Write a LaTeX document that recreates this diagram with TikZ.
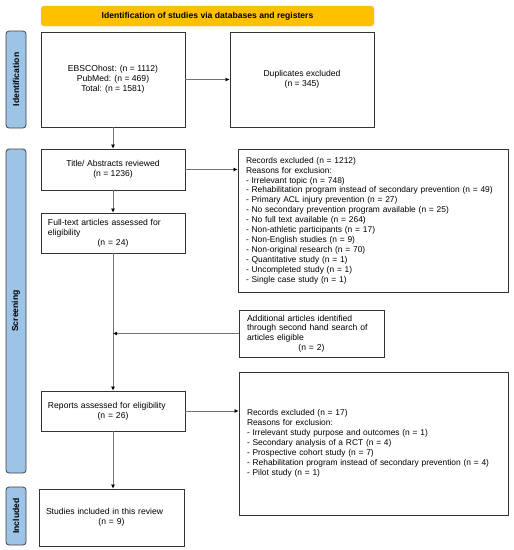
\documentclass[tikz,border=0pt]{standalone}
\usepackage{fontspec}
\setmainfont{Liberation Sans}
\usetikzlibrary{arrows.meta}
\definecolor{bannerorange}{RGB}{255,192,0}
\definecolor{phaseblue}{RGB}{157,195,230}
\tikzset{
  stagebox/.style={draw=black!80, line width=0.8pt, minimum width=144pt, align=center,
    font=\fontsize{8.6}{9.8}\selectfont},
  leftbox/.style={stagebox, align=left, inner xsep=7pt, text width=130pt},
  reasonbox/.style={stagebox, align=left, inner xsep=8pt, font=\fontsize{8.4}{9.9}\selectfont},
  phaselabel/.style={draw=black!75, line width=0.8pt, fill=phaseblue, rounded corners=3pt,
    rotate=90, minimum height=20pt, inner sep=0pt, font=\fontsize{8.6}{9.8}\selectfont\bfseries},
  conn/.style={draw=black!55, line width=0.7pt, -{Latex[length=4pt,width=4pt,color=black]}}
}
\begin{document}
\begin{tikzpicture}[x=1pt,y=-1pt]
  \useasboundingbox (0,0) rectangle (514,550);
  % banner and phases
  \node[draw=bannerorange!80!black!60, fill=bannerorange, rounded corners=3pt, minimum width=333pt,
    minimum height=20pt, inner sep=0pt, font=\fontsize{8.6}{9.8}\selectfont\bfseries] (banner) at (207.5,16)
    {Identification of studies via databases and registers};
  \node[phaselabel, minimum width=97pt] (phaseid) at (16,79.5) {Identification};
  \node[phaselabel, minimum width=324pt] (phasescr) at (16,311) {Screening};
  \node[phaselabel, minimum width=58pt] (phaseinc) at (16,516) {Included};

  % left column
  \node[stagebox, minimum height=95pt] (search) at (113,79.5)
    {EBSCOhost: (n = 1112)\\PubMed: (n = 469)\\Total: (n = 1581)};
  \node[stagebox, minimum height=41pt] (title) at (113,169.5)
    {Title/ Abstracts reviewed\\(n = 1236)};
  \node[leftbox, minimum height=40pt] (fulltext) at (113,233)
    {Full-text articles assessed for\\eligibility\par{\centering (n = 24)\par}};
  \node[leftbox, minimum height=40pt] (reports) at (113,411)
    {Reports assessed for eligibility\par{\centering (n = 26)\par}};
  \node[leftbox, minimum height=57pt, text width=131pt] (studies) at (111.5,517.5)
    {Studies included in this review\par{\centering (n = 9)\par}};

  % right column
  \node[stagebox, minimum height=95pt] (dupl) at (302,79.5)
    {Duplicates excluded\\(n = 345)};
  \node[reasonbox, minimum height=143pt, text width=254pt] (excl) at (373,220.5)
    {Records excluded (n = 1212)\\Reasons for exclusion:\\
     - Irrelevant topic (n = 748)\\
     - Rehabilitation program instead of secondary prevention (n = 49)\\
     - Primary ACL injury prevention (n = 27)\\
     - No secondary prevention program available (n = 25)\\
     - No full text available (n = 264)\\
     - Non-athletic participants (n = 17)\\
     - Non-English studies (n = 9)\\
     - Non-original research (n = 70)\\
     - Quantitative study (n = 1)\\
     - Uncompleted study (n = 1)\\
     - Single case study (n = 1)};
  \node[leftbox, minimum height=47pt, inner xsep=8pt, text width=129pt] (extra) at (311.5,333.5)
    {Additional articles identified\\through second hand search of\\articles eligible\par{\centering (n = 2)\par}};
  \node[reasonbox, minimum height=143pt, text width=253pt] (exclrep) at (373.5,443.5)
    {Records excluded (n = 17)\\Reasons for exclusion:\\
     - Irrelevant study purpose and outcomes (n = 1)\\
     - Secondary analysis of a RCT (n = 4)\\
     - Prospective cohort study (n = 7)\\
     - Rehabilitation program instead of secondary prevention (n = 4)\\
     - Pilot study (n = 1)};

  % connectors
  \draw[conn] (search.east) -- (dupl.west);
  \draw[conn] (search.south) -- (title.north);
  \draw[conn] (title.east) -- (title.east -| excl.west);
  \draw[conn] (title.south) -- (fulltext.north);
  \draw[conn] (fulltext.south) -- (reports.north);
  \draw[conn] (extra.west) -- (extra.west -| fulltext.south);
  \draw[conn] (reports.east) -- (reports.east -| exclrep.west);
  \draw[conn] (reports.south) -- (reports.south |- studies.north);
\end{tikzpicture}
\end{document}
